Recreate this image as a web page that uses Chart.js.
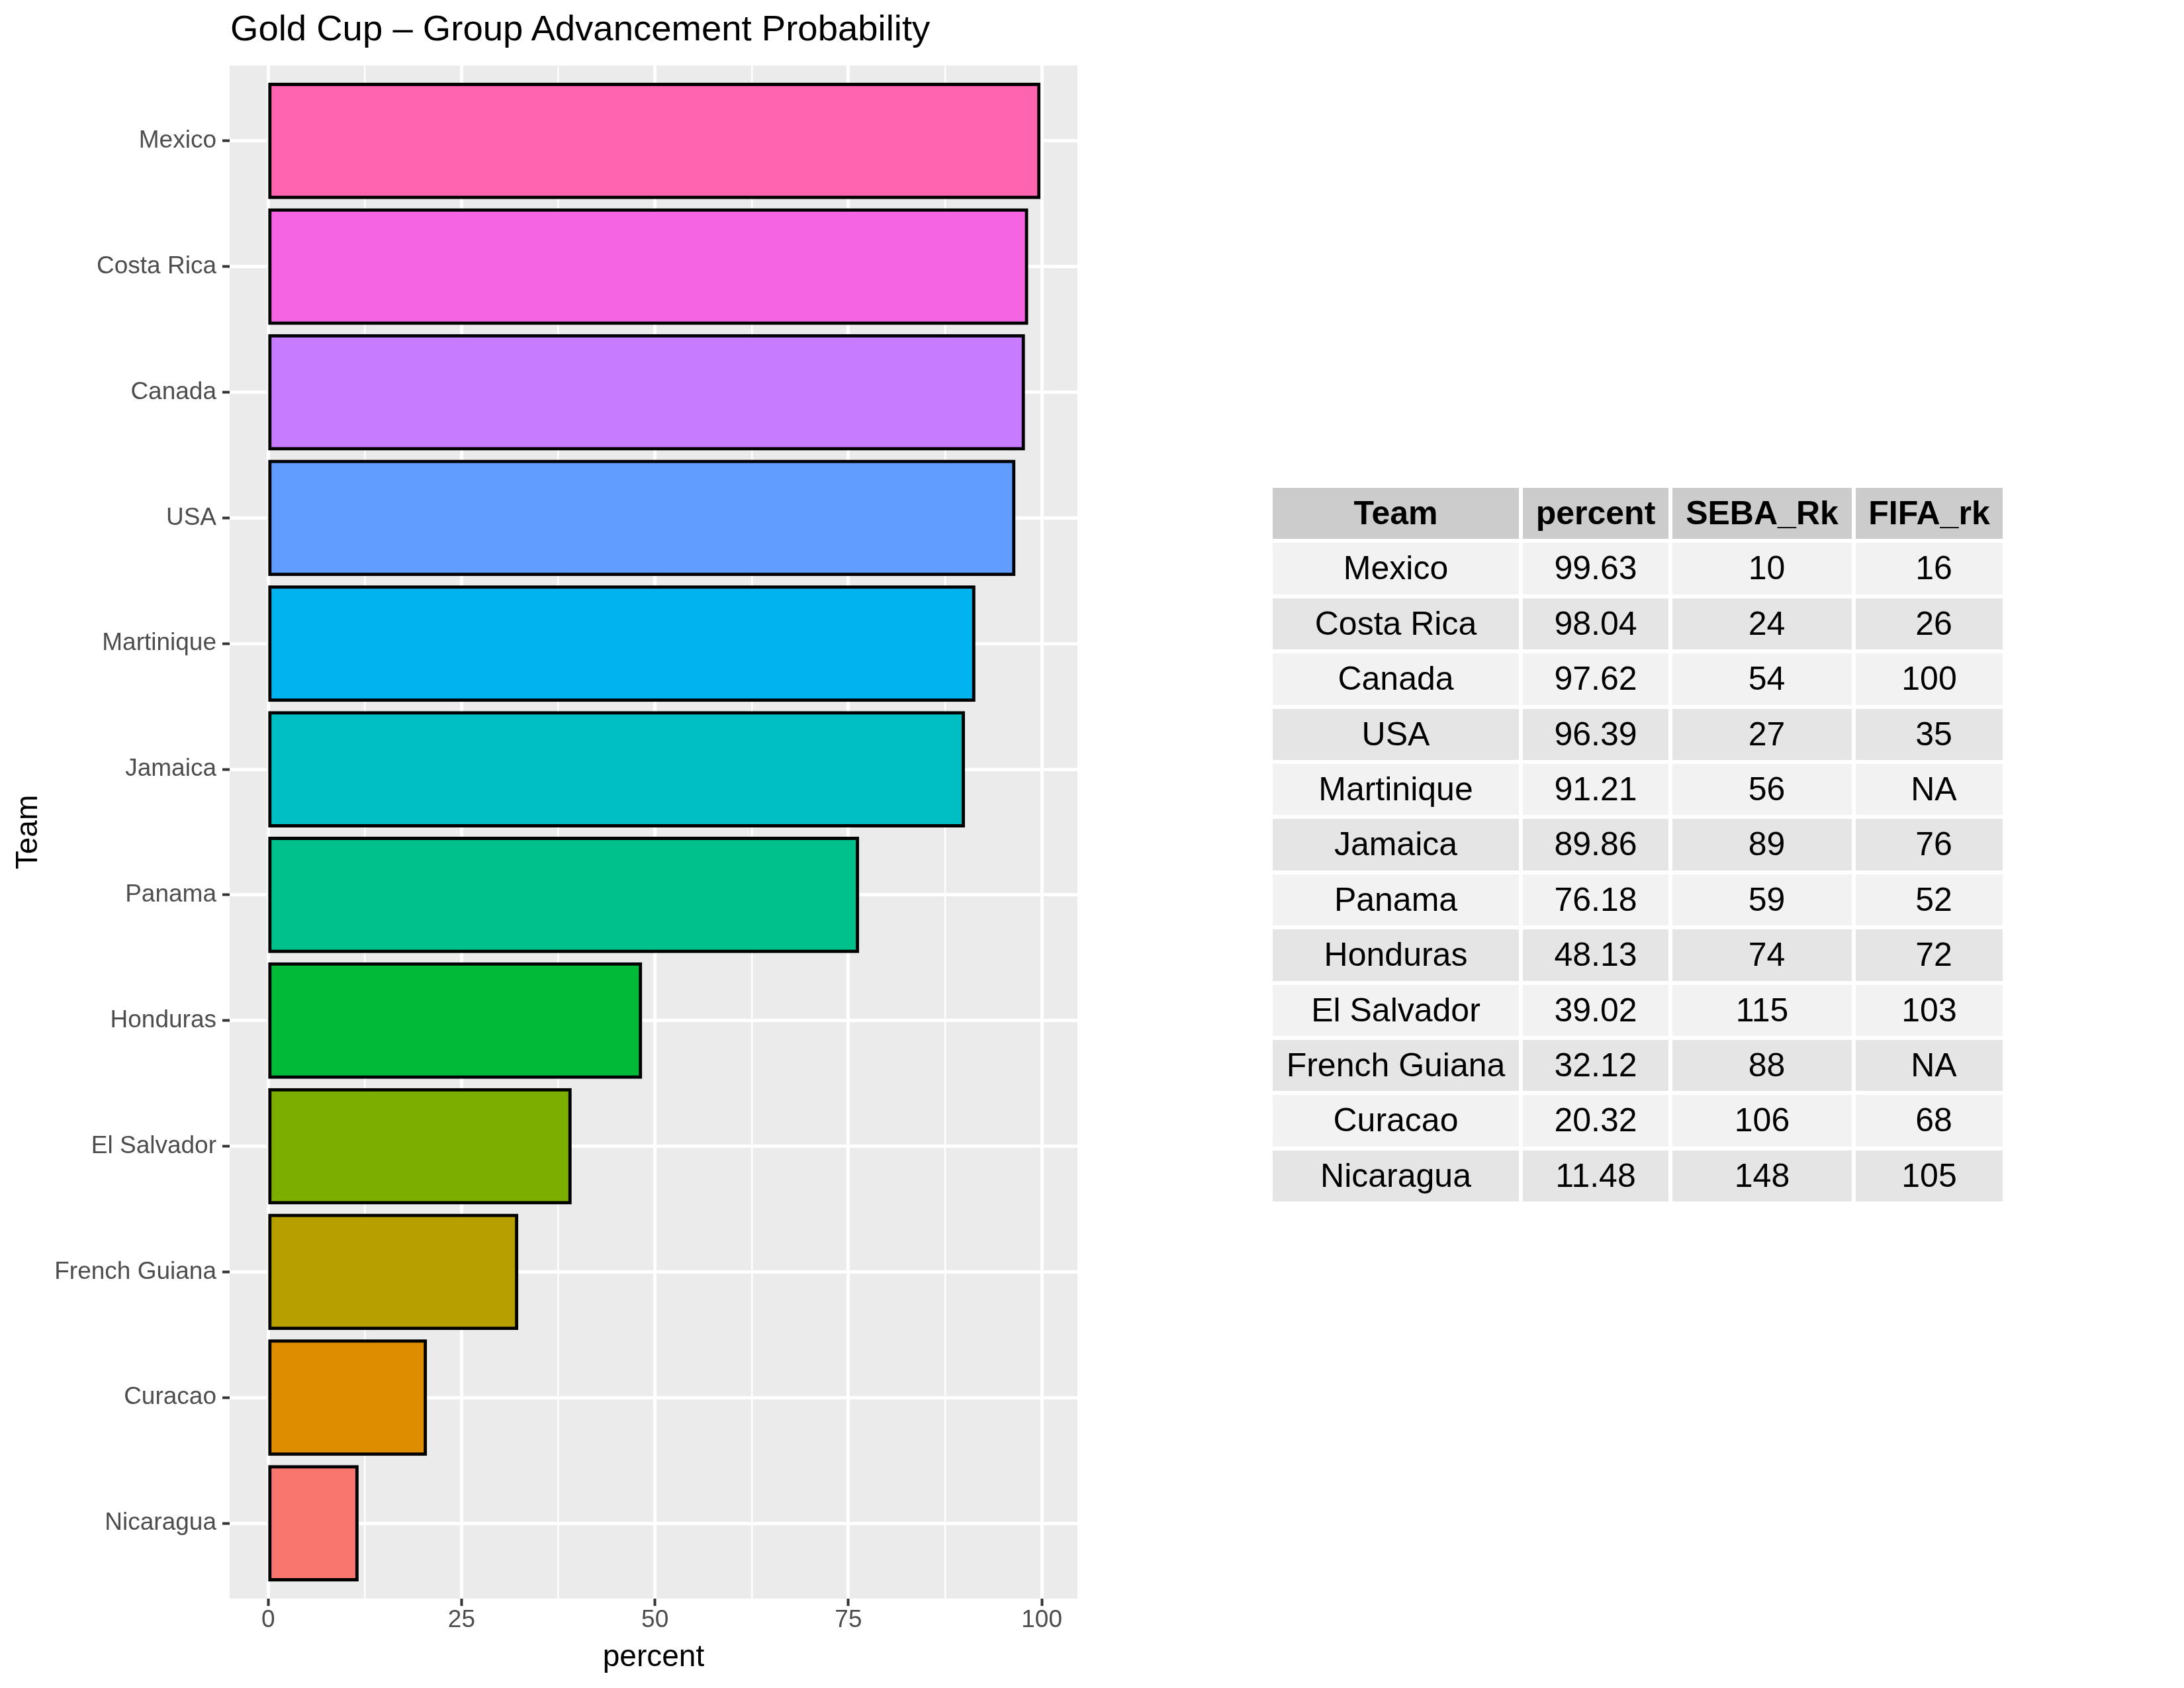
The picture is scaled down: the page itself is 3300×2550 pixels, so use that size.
<!DOCTYPE html>
<html>
<head>
<meta charset="utf-8">
<script src="https://cdn.jsdelivr.net/npm/chart.js@4.4.1/dist/chart.umd.min.js"></script>
<style>
  body { margin: 0; background: #fff; width: 3300px; height: 2550px; overflow: hidden; position: relative; font-family: "Liberation Sans", Arial, sans-serif; }
  #title { position: absolute; left: 348px; top: 15px; font-size: 54.5px; line-height: 55px; color: #000; white-space: nowrap; }
  #chartBox { position: absolute; left: 0; top: 0; width: 1700px; height: 2550px; }
  #tbl { position: absolute; left: 1917px; top: 731px; border-collapse: separate; border-spacing: 6px; table-layout: fixed; font-size: 50px; }
  #tbl td, #tbl th { padding: 0; height: 77.4px; line-height: 77.4px; text-align: center; white-space: pre; color: #000; overflow: hidden; }
  #tbl th { background: #CCCCCC; font-weight: bold; }
</style>
</head>
<body>
<div id="title">Gold Cup – Group Advancement Probability</div>
<div id="chartBox"><canvas id="goldcup_chart" width="1700" height="2550"></canvas></div>
<table id="tbl"></table>
<script>
// data, top to bottom as in the plot
const teams = ['Mexico', 'Costa Rica', 'Canada', 'USA', 'Martinique', 'Jamaica', 'Panama', 'Honduras', 'El Salvador', 'French Guiana', 'Curacao', 'Nicaragua'];
const percent = [99.63, 98.04, 97.62, 96.39, 91.21, 89.86, 76.18, 48.13, 39.02, 32.12, 20.32, 11.48];
const sebaRank = [10, 24, 54, 27, 56, 89, 59, 74, 115, 88, 106, 148];
const fifaRank = [16, 26, 100, 35, null, 76, 52, 72, 103, null, 68, 105];
const barColors = ['#FF64B0', '#F564E3', '#C77CFF', '#619CFF', '#00B4F0', '#00BFC4', '#00C08B', '#00BA38', '#7CAE00', '#B79F00', '#DE8C00', '#F8766D'];
const xMajorTicks = [0, 25, 50, 75, 100];
const xMinorTicks = [12.5, 37.5, 62.5, 87.5];
const tableHeader = ['Team', 'percent', 'SEBA_Rk', 'FIFA_rk'];
const colWidths = [372, 220, 271, 222];

const nTeams = teams.length;
const yPos = teams.map((t, i) => nTeams - i);

// table
let html = '<tr>';
tableHeader.forEach((h, j) => { html += '<th style="width:' + colWidths[j] + 'px">' + h + '</th>'; });
html += '</tr>';
teams.forEach((t, i) => {
  const bg = i % 2 == 0 ? '#F2F2F2' : '#E5E5E5';
  const fifa = fifaRank[i] == null ? 'NA' : String(fifaRank[i]);
  const cells = [t, percent[i].toFixed(2), String(sebaRank[i]).padStart(3), fifa.padStart(3)];
  html += '<tr>';
  cells.forEach((c) => { html += '<td style="background:' + bg + '">' + c + '</td>'; });
  html += '</tr>';
});
document.getElementById('tbl').innerHTML = html;

// grey panel like ggplot
const panelBg = {
  id: 'panelBg',
  beforeDraw(chart) {
    const a = chart.chartArea;
    const ctx = chart.ctx;
    ctx.save();
    ctx.fillStyle = '#EBEBEB';
    ctx.fillRect(a.left, a.top, a.right - a.left, a.bottom - a.top);
    ctx.restore();
  }
};

const isMajor = (v) => xMajorTicks.includes(v);
const fontFam = '"Liberation Sans", Arial, sans-serif';

new Chart(document.getElementById('goldcup_chart').getContext('2d'), {
  type: 'bar',
  data: {
    datasets: [{
      data: percent.map((p, i) => ({ x: p, y: yPos[i] })),
      backgroundColor: barColors,
      borderColor: '#000000',
      borderWidth: 5,
      borderSkipped: false,
      inflateAmount: 2.5,
      categoryPercentage: 0.9,
      barPercentage: 1.0
    }]
  },
  options: {
    indexAxis: 'y',
    responsive: false,
    animation: false,
    devicePixelRatio: 1,
    layout: { padding: { top: 99, right: 72, left: 0, bottom: 0 } },
    plugins: { legend: { display: false }, tooltip: { enabled: false } },
    scales: {
      x: {
        type: 'linear',
        min: -4.98,
        max: 104.61,
        afterBuildTicks: (scale) => {
          scale.ticks = xMajorTicks.concat(xMinorTicks).sort((a, b) => a - b).map((v) => ({ value: v }));
        },
        afterFit: (scale) => { scale.height = 135; },
        border: { display: false },
        grid: {
          color: '#FFFFFF',
          lineWidth: (ctx) => isMajor(ctx.tick.value) ? 5 : 2.5,
          tickColor: (ctx) => isMajor(ctx.tick.value) ? '#333333' : 'rgba(0,0,0,0)',
          tickWidth: (ctx) => isMajor(ctx.tick.value) ? 4 : 0,
          tickLength: 11
        },
        ticks: {
          autoSkip: false,
          maxRotation: 0,
          padding: 0,
          color: '#4D4D4D',
          font: { family: fontFam, size: 37 },
          callback: (v) => isMajor(v) ? String(v) : ''
        },
        title: {
          display: true,
          text: 'percent',
          color: '#000000',
          font: { family: fontFam, size: 46 },
          padding: { top: 0, bottom: 18 }
        }
      },
      y: {
        type: 'linear',
        min: 0.4,
        max: nTeams + 0.6,
        offset: false,
        afterBuildTicks: (scale) => {
          scale.ticks = yPos.slice().reverse().map((v) => ({ value: v }));
        },
        afterFit: (scale) => { scale.width = 347; },
        border: { display: false },
        grid: {
          offset: false,
          color: '#FFFFFF',
          lineWidth: 5,
          tickColor: '#333333',
          tickWidth: 4,
          tickLength: 11
        },
        ticks: {
          autoSkip: false,
          padding: 9,
          color: '#4D4D4D',
          font: { family: fontFam, size: 37 },
          callback: (v) => teams[nTeams - v]
        },
        title: {
          display: true,
          text: 'Team',
          color: '#000000',
          font: { family: fontFam, size: 46 },
          padding: { top: 16, bottom: 0 }
        }
      }
    }
  },
  plugins: [panelBg]
});
</script>
</body>
</html>
